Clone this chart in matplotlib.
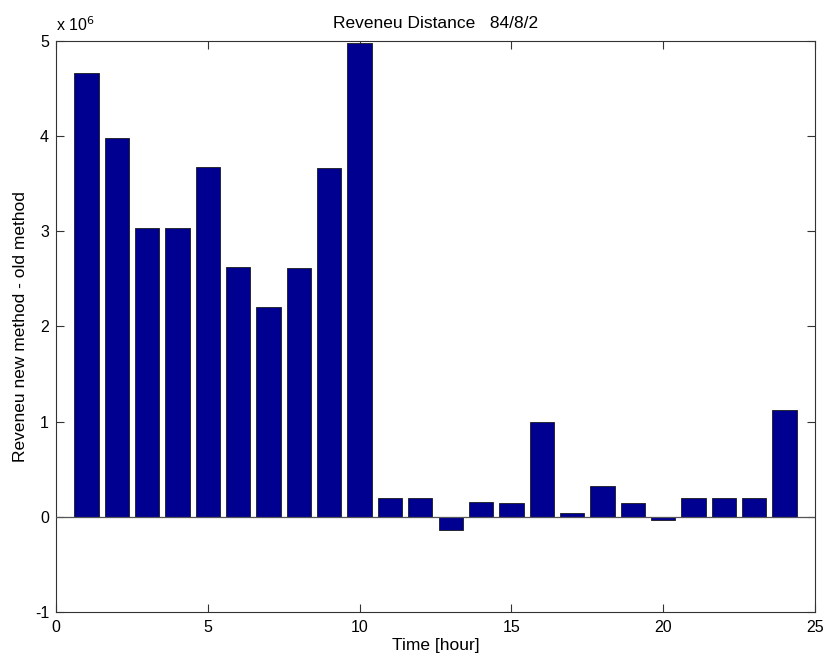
import matplotlib
matplotlib.use("Agg")
import matplotlib.pyplot as plt
from matplotlib.ticker import FuncFormatter

hours = list(range(1, 25))
revenue_diff = [4.66e6, 3.98e6, 3.03e6, 3.03e6, 3.67e6, 2.62e6, 2.20e6, 2.61e6,
                3.66e6, 4.98e6, 0.196e6, 0.198e6, -0.14e6, 0.16e6, 0.15e6, 1.00e6,
                0.04e6, 0.32e6, 0.15e6, -0.03e6, 0.20e6, 0.20e6, 0.20e6, 1.12e6]
x_ticks = [0, 5, 10, 15, 20, 25]
y_ticks = [-1e6, 0, 1e6, 2e6, 3e6, 4e6, 5e6]

plt.rcParams['font.family'] = ['Liberation Sans', 'DejaVu Sans']

fig = plt.figure(figsize=(8.29, 6.57), dpi=100)
ax = fig.add_axes([0.0676, 0.0685, 0.9155, 0.8695])

ax.bar(hours, revenue_diff, width=0.8, color='#000090', edgecolor='#1a1a1a', linewidth=0.6, zorder=2)
ax.axhline(0, color='#555555', linewidth=0.9, zorder=3)

ax.set_xlim(0, 25)
ax.set_ylim(-1e6, 5e6)
ax.set_xticks(x_ticks)
ax.set_yticks(y_ticks)
ax.yaxis.set_major_formatter(FuncFormatter(lambda v, p: f"{v/1e6:g}"))
ax.tick_params(direction='in', length=6, width=0.8, top=True, right=True,
               labelsize=11.5, colors='#333333', labelcolor='black')
ax.tick_params(axis='x', pad=6)
ax.tick_params(axis='y', pad=5)
for s in ax.spines.values():
    s.set_color('#333333')
    s.set_linewidth(0.8)

ax.set_title('Reveneu Distance   84/8/2', fontsize=12.5, pad=9)
ax.set_xlabel('Time [hour]', fontsize=12.5, labelpad=2)
ax.set_ylabel('Reveneu new method - old method', fontsize=12.5, labelpad=5)
ax.text(0.0, 1.012, r'x 10$^{6}$', transform=ax.transAxes, fontsize=11.5, ha='left', va='bottom')

fig.savefig('out.png', dpi=100)
